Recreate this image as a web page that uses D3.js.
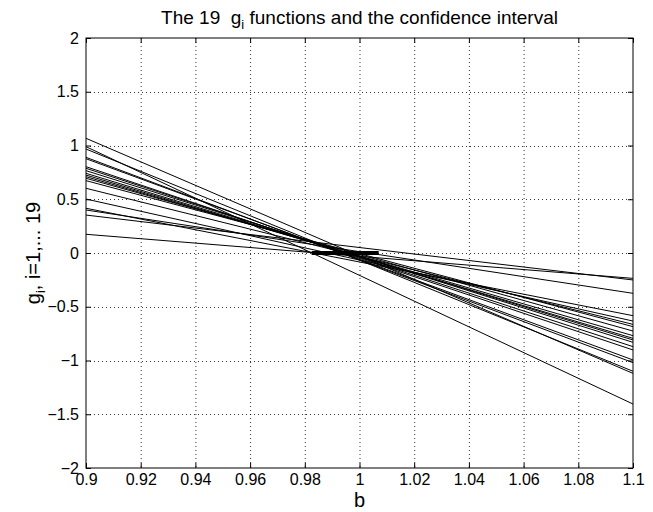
<!DOCTYPE html>
<html>
<head>
<meta charset="utf-8">
<script src="https://cdn.jsdelivr.net/npm/d3@7"></script>
<style>
  body { margin: 0; background: #fff; }
  svg { display: block; font-family: "Liberation Sans", Arial, sans-serif; }
</style>
</head>
<body>
<svg id="chart" width="653" height="512"></svg>
<script>
// g_i evaluated at the two ends of the b range
const bRange = [0.9, 1.1];
const gAtLeft = [1.067, 0.989, 0.967, 0.890, 0.877, 0.803, 0.788, 0.766, 0.741, 0.725,
                 0.710, 0.695, 0.673, 0.602, 0.502, 0.416, 0.400, 0.353, 0.174];
const gAtRight = [-1.12, -1.405, -1.10, -1.02, -0.995, -0.902, -0.871, -0.831, -0.809, -0.794,
                  -0.769, -0.726, -0.685, -0.664, -0.633, -0.583, -0.375, -0.251, -0.236];
// confidence interval on b
const ciInterval = [0.9825, 1.007];
const xTicks = [0.9, 0.92, 0.94, 0.96, 0.98, 1, 1.02, 1.04, 1.06, 1.08, 1.1];
const yTicks = [-2, -1.5, -1, -0.5, 0, 0.5, 1, 1.5, 2];

const M = { left: 86, right: 633, top: 38, bottom: 468 };
const svg = d3.select('#chart');

const x = d3.scaleLinear().domain(bRange).range([M.left, M.right]);
const y = d3.scaleLinear().domain([-2, 2]).range([M.bottom, M.top]);
const fmt = (v) => String(v).replace('-', '\u2212');

// ---- grid ----
const grid = svg.append('g').attr('stroke', '#000').attr('stroke-width', 0.8)
  .attr('stroke-dasharray', '1,3');
grid.selectAll('line.gx').data(xTicks.slice(1, -1)).join('line')
  .attr('x1', (d) => x(d) + 0.5).attr('x2', (d) => x(d) + 0.5)
  .attr('y1', M.top).attr('y2', M.bottom);
grid.selectAll('line.gy').data(yTicks.slice(1, -1)).join('line')
  .attr('y1', (d) => Math.round(y(d)) + 0.5).attr('y2', (d) => Math.round(y(d)) + 0.5)
  .attr('x1', M.left).attr('x2', M.right);

// ---- axes (ticks inside, mirrored) ----
const tk = 5;
const axB = svg.append('g').attr('transform', `translate(0,${M.bottom})`)
  .call(d3.axisBottom(x).tickValues(xTicks).tickSizeInner(-tk).tickSizeOuter(0).tickPadding(6).tickFormat(fmt));
const axT = svg.append('g').attr('transform', `translate(0,${M.top})`)
  .call(d3.axisTop(x).tickValues(xTicks).tickSizeInner(-tk).tickSizeOuter(0).tickFormat(''));
const axL = svg.append('g').attr('transform', `translate(${M.left},0)`)
  .call(d3.axisLeft(y).tickValues(yTicks).tickSizeInner(-tk).tickSizeOuter(0).tickPadding(7).tickFormat(fmt));
const axR = svg.append('g').attr('transform', `translate(${M.right},0)`)
  .call(d3.axisRight(y).tickValues(yTicks).tickSizeInner(-tk).tickSizeOuter(0).tickFormat(''));
[axB, axT, axL, axR].forEach((a) => {
  a.select('.domain').remove();
  a.selectAll('line').attr('stroke', '#000');
  a.selectAll('text').attr('font-size', 16).attr('fill', '#000')
    .attr('font-family', '"Liberation Sans", Arial, sans-serif');
});

// ---- g_i lines ----
const line = d3.line().x((d) => x(d[0])).y((d) => y(d[1]));
svg.append('g').selectAll('path').data(gAtLeft.map((l, i) => [[bRange[0], l], [bRange[1], gAtRight[i]]]))
  .join('path')
  .attr('d', line)
  .attr('fill', 'none').attr('stroke', '#000').attr('stroke-width', 1);

// ---- confidence interval ----
svg.append('path')
  .attr('d', line([[ciInterval[0], 0], [ciInterval[1], 0]]))
  .attr('stroke', '#000').attr('stroke-width', 4).attr('fill', 'none');

// ---- box ----
svg.append('rect')
  .attr('x', M.left).attr('y', M.top)
  .attr('width', M.right - M.left).attr('height', M.bottom - M.top)
  .attr('fill', 'none').attr('stroke', '#000').attr('stroke-width', 1);

// ---- labels ----
const title = svg.append('text').attr('x', (M.left + M.right) / 2).attr('y', 24)
  .attr('text-anchor', 'middle').attr('font-size', 19).attr('fill', '#000');
title.append('tspan').text('The 19\u00a0\u00a0g');
title.append('tspan').attr('font-size', 13).attr('dy', 5).text('i');
title.append('tspan').attr('dy', -5).text(' functions and the confidence interval');

svg.append('text').attr('x', (M.left + M.right) / 2).attr('y', 507)
  .attr('text-anchor', 'middle').attr('font-size', 20).attr('fill', '#000').text('b');

const yl = svg.append('text')
  .attr('transform', `translate(40,${(M.top + M.bottom) / 2}) rotate(-90)`)
  .attr('text-anchor', 'middle').attr('font-size', 20).attr('fill', '#000');
yl.append('tspan').text('g');
yl.append('tspan').attr('font-size', 13).attr('dy', 5).text('i');
yl.append('tspan').attr('dy', -5).text(', i=1,... 19');
</script>
</body>
</html>
